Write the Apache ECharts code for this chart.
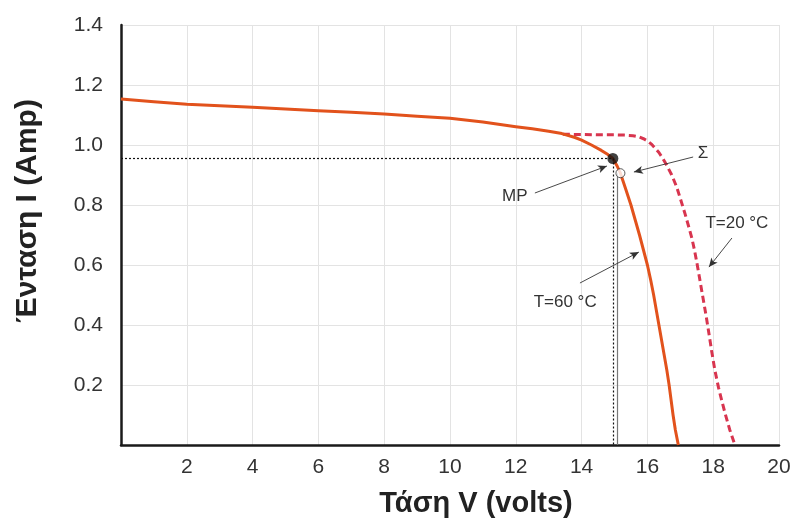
<!DOCTYPE html>
<html>
<head>
<meta charset="utf-8">
<script src="https://cdn.jsdelivr.net/npm/echarts@6/dist/echarts.min.js"></script>
<style>
html,body{margin:0;padding:0;background:#fff;}
#chart{width:801px;height:524px;}
</style>
</head>
<body>
<div id="chart"></div>
<script>
// T = 60 °C curve (solid)
var v60 = [0, 1, 2, 3, 4, 5, 6, 7, 8, 9, 10, 11, 12, 12.5, 13, 13.4, 13.8, 14.0, 14.3, 14.6, 14.8, 14.95, 15.08, 15.18, 15.35, 15.5, 15.63, 15.76, 15.88, 16.0, 16.1, 16.19, 16.27, 16.35, 16.43, 16.51, 16.59, 16.66, 16.72, 16.78, 16.85, 16.94];
var i60 = [1.153, 1.144, 1.136, 1.131, 1.126, 1.120, 1.114, 1.109, 1.103, 1.096, 1.089, 1.077, 1.061, 1.054, 1.046, 1.038, 1.025, 1.016, 1.0, 0.982, 0.968, 0.955, 0.93, 0.906, 0.85, 0.8, 0.75, 0.7, 0.65, 0.6, 0.55, 0.5, 0.45, 0.4, 0.35, 0.3, 0.25, 0.2, 0.15, 0.1, 0.05, 0.0];
// T = 20 °C curve (dashed)
var v20 = [13.43, 14.0, 14.5, 15.0, 15.3, 15.56, 15.75, 15.9, 16.02, 16.12, 16.23, 16.35, 16.47, 16.59, 16.74, 16.89, 17.0, 17.14, 17.25, 17.35, 17.43, 17.5, 17.58, 17.65, 17.73, 17.8, 17.88, 17.95, 18.05, 18.16, 18.26, 18.36, 18.5, 18.66];
var i20 = [1.036, 1.035, 1.034, 1.034, 1.033, 1.031, 1.027, 1.02, 1.012, 1.003, 0.99, 0.975, 0.955, 0.932, 0.9, 0.86, 0.822, 0.772, 0.73, 0.69, 0.65, 0.61, 0.56, 0.515, 0.465, 0.42, 0.365, 0.315, 0.25, 0.192, 0.148, 0.106, 0.052, 0.0];
// special points
var mpPoint = [14.95, 0.955];
var sigmaPoint = [15.18, 0.906];
var sigmaLineV = 15.09;
// annotation labels [V, I]
var labelNames = ['MP', 'Σ', 'T=20 °C', 'T=60 °C'];
var labelPos = [[11.97, 0.83], [17.69, 0.973], [18.72, 0.74], [13.5, 0.477]];
// arrows [from, to]
var arrows = [
  [[12.58, 0.84], [14.77, 0.93]],
  [[17.39, 0.96], [15.59, 0.91]],
  [[18.57, 0.69], [17.87, 0.593]],
  [[13.95, 0.54], [15.74, 0.643]]
];
// axes
var xMin = 0, xMax = 20, xStep = 2;
var yMin = 0, yMax = 1.4, yStep = 0.2;
var xTitle = 'Τάση V (volts)';
var yTitle = 'Ένταση I (Amp)';

var FONT = '"Liberation Sans", Arial, sans-serif';

function zip(a, b) { return a.map(function (x, k) { return [x, b[k]]; }); }

var chart = echarts.init(document.getElementById('chart'), null, {renderer: 'canvas'});

var arrowLines = arrows.map(function (a) {
  return [{coord: a[0], symbol: 'none'}, {coord: a[1], symbol: 'arrow', symbolSize: [6, 9]}];
});

var option = {
  animation: false,
  backgroundColor: '#fff',
  grid: {left: 121, right: 22, top: 25, bottom: 79, containLabel: false},
  xAxis: {
    type: 'value', min: xMin, max: xMax, interval: xStep,
    name: xTitle, nameLocation: 'middle', nameGap: 44,
    nameTextStyle: {fontFamily: FONT, fontSize: 29, fontWeight: 'bold', color: '#222', padding: [0, 0, 0, 52]},
    axisLine: {show: true, onZero: false, lineStyle: {color: '#1a1a1a', width: 2.5}},
    axisTick: {show: false},
    axisLabel: {margin: 12, fontFamily: FONT, fontSize: 21, color: '#333',
      formatter: function (v) { return v === 0 ? '' : String(v); }},
    splitLine: {show: true, lineStyle: {color: '#e3e3e3', width: 1}}
  },
  yAxis: {
    type: 'value', min: yMin, max: yMax, interval: yStep,
    name: yTitle, nameLocation: 'middle', nameGap: 78,
    nameTextStyle: {fontFamily: FONT, fontSize: 30, fontWeight: 'bold', color: '#222', padding: [0, 0, 0, 48]},
    axisLine: {show: true, onZero: false, lineStyle: {color: '#1a1a1a', width: 2.5}},
    axisTick: {show: false},
    axisLabel: {margin: 18, fontFamily: FONT, fontSize: 21, color: '#333',
      formatter: function (v) { return v === 0 ? '' : v.toFixed(1); }},
    splitLine: {show: true, lineStyle: {color: '#e3e3e3', width: 1}}
  },
  series: [
    {
      name: 'guides', type: 'line', data: [], silent: true,
      markLine: {
        silent: true, symbol: 'none', animation: false,
        label: {show: false},
        lineStyle: {color: '#111', width: 1.2, type: [2, 2]},
        data: [
          [{coord: [xMin, mpPoint[1]]}, {coord: mpPoint}],
          [{coord: mpPoint}, {coord: [mpPoint[0], yMin]}],
          [{coord: [sigmaLineV, sigmaPoint[1]], lineStyle: {type: 'solid', color: '#777', width: 1.2}},
           {coord: [sigmaLineV, yMin]}]
        ]
      }
    },
    {
      name: 'T=20 °C', type: 'line', data: zip(v20, i20), showSymbol: false, smooth: false,
      lineStyle: {color: '#d8354f', width: 3, type: [7, 4], join: 'round'}, z: 3
    },
    {
      name: 'T=60 °C', type: 'line', data: zip(v60, i60), showSymbol: false, smooth: false,
      lineStyle: {color: '#e2521c', width: 3, join: 'round'}, z: 4
    },
    {
      name: 'arrows', type: 'line', data: [], silent: true,
      markLine: {
        silent: true, animation: false, label: {show: false},
        lineStyle: {color: '#333', width: 0.9, type: 'solid'},
        data: arrowLines
      },
      markPoint: {
        silent: true, animation: false,
        symbol: 'circle', symbolSize: 1, itemStyle: {color: 'rgba(0,0,0,0)'},
        label: {show: true, position: 'inside', fontFamily: FONT, fontSize: 17, color: '#333',
          formatter: function (p) { return p.name; }},
        data: labelNames.map(function (n, k) { return {name: n, coord: labelPos[k]}; })
      }
    },
    {
      name: 'MP', type: 'scatter', data: [mpPoint], symbolSize: 11, z: 6,
      itemStyle: {color: '#111'}
    },
    {
      name: 'Σ', type: 'scatter', data: [sigmaPoint], symbolSize: 9, z: 6,
      itemStyle: {color: '#fff', borderColor: '#333', borderWidth: 1}
    }
  ]
};
chart.setOption(option);
</script>
</body>
</html>
